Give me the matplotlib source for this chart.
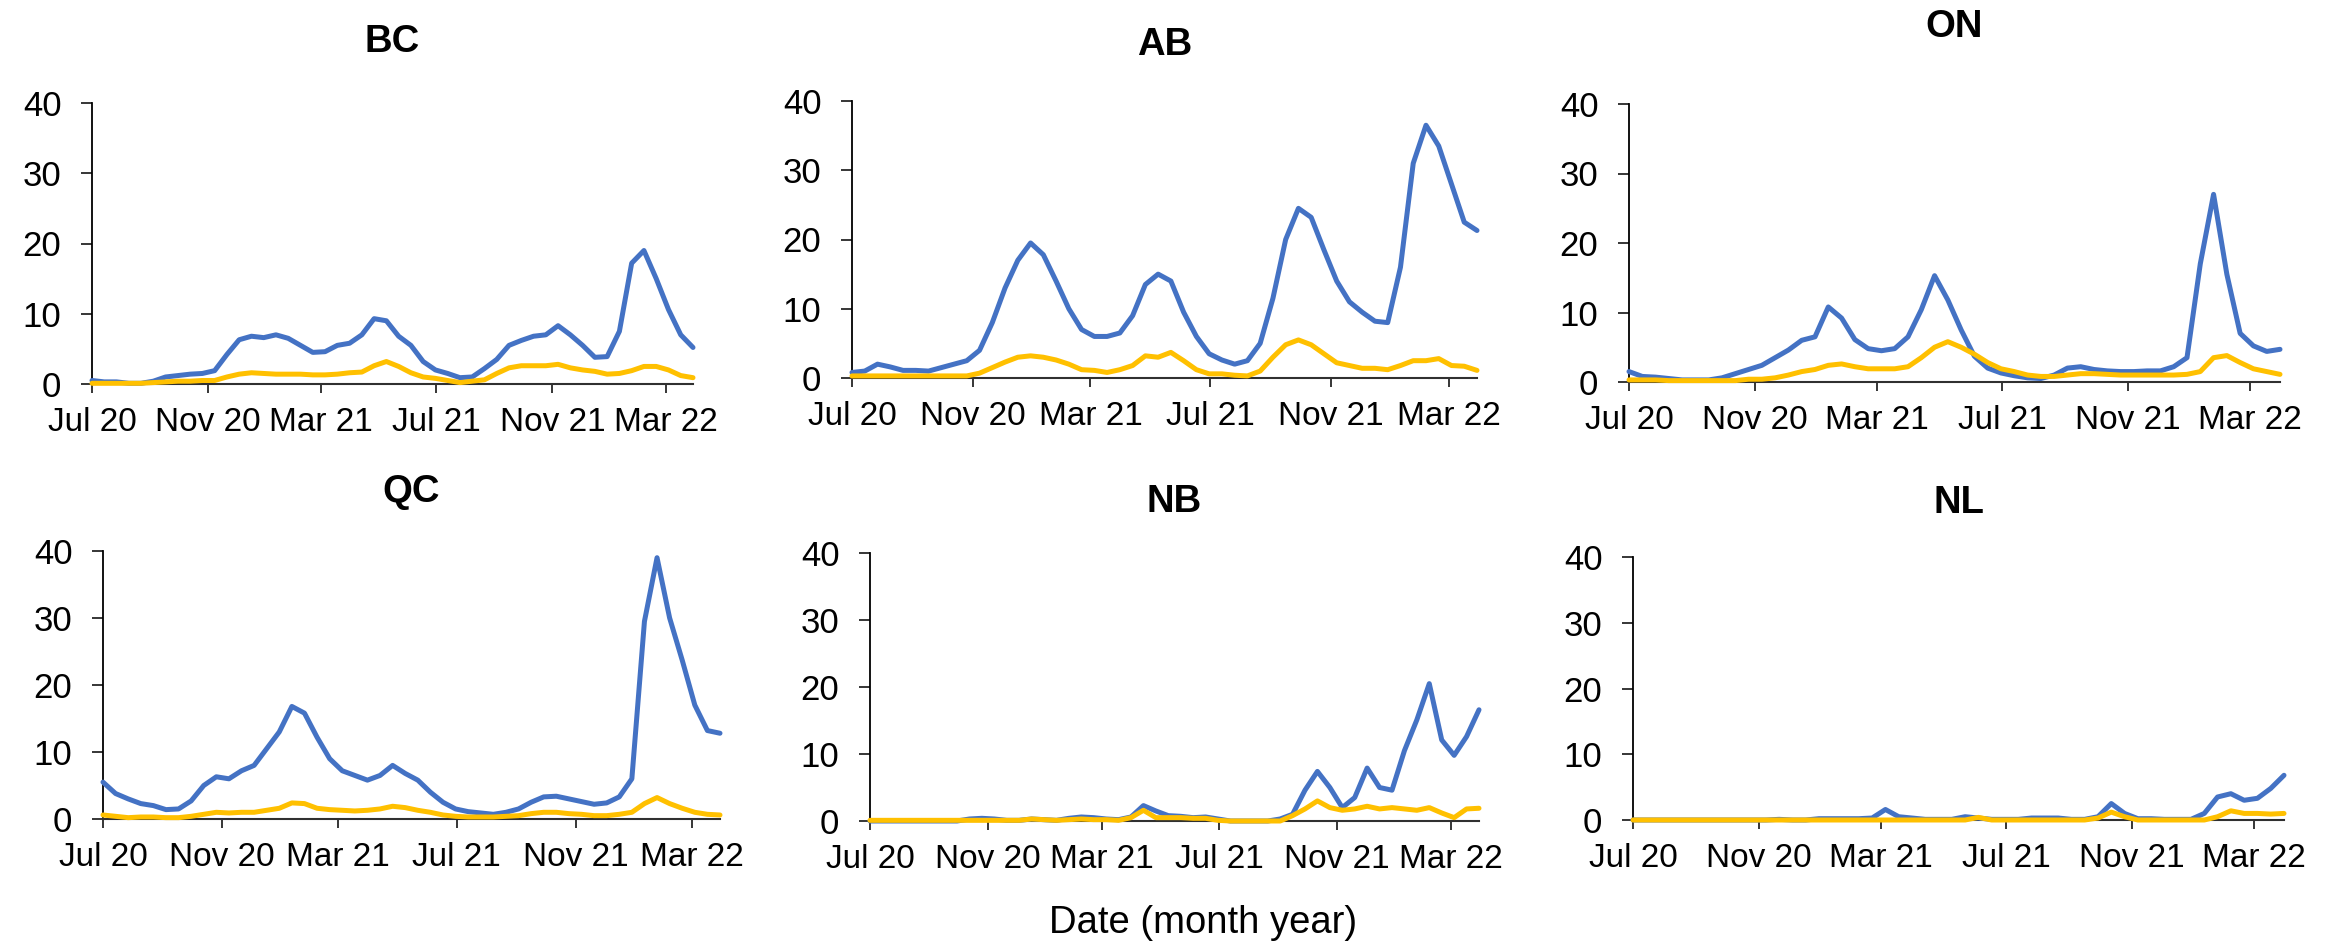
import matplotlib
matplotlib.use("Agg")
import matplotlib.pyplot as plt
import pandas as pd

plt.rcParams['font.family'] = ['Liberation Sans', 'DejaVu Sans']

# sample dates: every 13 days from 1 Jul 2020 to 30 Mar 2022
dates = pd.date_range('2020-07-01', periods=50, freq='13D')

provinces = ['BC', 'AB', 'ON', 'QC', 'NB', 'NL']

bc_blue = [0.5, 0.3, 0.3, 0.1, 0.1, 0.4, 1.0, 1.2, 1.4, 1.5,
           1.9, 4.2, 6.3, 6.8, 6.6, 7.0, 6.5, 5.5, 4.5, 4.6,
           5.5, 5.8, 7.0, 9.3, 9.0, 6.8, 5.5, 3.2, 2.0, 1.5,
           0.9, 1.0, 2.2, 3.5, 5.5, 6.2, 6.8, 7.0, 8.3, 7.0,
           5.5, 3.8, 3.9, 7.5, 17.2, 19.0, 15.0, 10.6, 7.0, 5.2]
bc_yellow = [0.1, 0.1, 0.1, 0.1, 0.1, 0.2, 0.3, 0.4, 0.4, 0.5,
             0.5, 1.0, 1.4, 1.6, 1.5, 1.4, 1.4, 1.4, 1.3, 1.3,
             1.4, 1.6, 1.7, 2.6, 3.2, 2.5, 1.6, 1.0, 0.8, 0.5,
             0.2, 0.4, 0.6, 1.5, 2.3, 2.6, 2.6, 2.6, 2.8, 2.3,
             2.0, 1.8, 1.4, 1.5, 1.9, 2.5, 2.5, 2.0, 1.2, 0.9]

ab_blue = [0.8, 1.0, 2.0, 1.6, 1.1, 1.1, 1.0, 1.5, 2.0, 2.5,
           4.0, 8.0, 13.0, 17.0, 19.5, 17.8, 14.0, 10.0, 7.0, 6.0,
           6.0, 6.5, 9.0, 13.5, 15.0, 14.0, 9.5, 6.0, 3.5, 2.6,
           2.0, 2.5, 5.0, 11.5, 20.0, 24.5, 23.2, 18.5, 14.0, 11.0,
           9.5, 8.2, 8.0, 16.0, 31.0, 36.5, 33.5, 28.0, 22.5, 21.3]
ab_yellow = [0.3, 0.3, 0.3, 0.3, 0.3, 0.3, 0.3, 0.3, 0.3, 0.3,
             0.7, 1.5, 2.3, 3.0, 3.2, 3.0, 2.6, 2.0, 1.2, 1.1,
             0.8, 1.2, 1.8, 3.2, 3.0, 3.7, 2.5, 1.2, 0.6, 0.6,
             0.4, 0.3, 1.0, 3.0, 4.8, 5.5, 4.8, 3.5, 2.2, 1.8,
             1.4, 1.4, 1.2, 1.8, 2.5, 2.5, 2.8, 1.8, 1.7, 1.1]

on_blue = [1.5, 0.8, 0.7, 0.5, 0.3, 0.3, 0.3, 0.6, 1.2, 1.8,
           2.4, 3.5, 4.6, 6.0, 6.5, 10.8, 9.2, 6.1, 4.8, 4.5,
           4.8, 6.5, 10.4, 15.3, 11.8, 7.5, 3.7, 2.0, 1.3, 0.9,
           0.6, 0.5, 1.0, 2.0, 2.2, 1.8, 1.6, 1.5, 1.5, 1.6,
           1.6, 2.2, 3.5, 17.0, 27.0, 15.5, 7.0, 5.2, 4.4, 4.7]
on_yellow = [0.3, 0.3, 0.3, 0.2, 0.2, 0.2, 0.2, 0.2, 0.2, 0.4,
             0.4, 0.6, 1.0, 1.5, 1.8, 2.4, 2.6, 2.2, 1.9, 1.9,
             1.9, 2.2, 3.5, 5.0, 5.8, 5.0, 4.0, 2.8, 1.9, 1.5,
             1.0, 0.8, 0.8, 1.0, 1.2, 1.2, 1.1, 1.0, 1.0, 1.0,
             1.0, 1.0, 1.1, 1.5, 3.5, 3.8, 2.8, 1.9, 1.5, 1.1]

qc_blue = [5.5, 3.8, 3.0, 2.3, 2.0, 1.4, 1.5, 2.7, 5.0, 6.3,
           6.0, 7.2, 8.0, 10.5, 13.0, 16.8, 15.8, 12.2, 9.0, 7.2,
           6.5, 5.8, 6.5, 8.0, 6.8, 5.8, 4.0, 2.5, 1.5, 1.1,
           0.9, 0.7, 1.0, 1.5, 2.5, 3.3, 3.4, 3.0, 2.6, 2.2,
           2.4, 3.3, 6.0, 29.5, 39.0, 30.0, 23.7, 17.0, 13.2, 12.8]
qc_yellow = [0.6, 0.4, 0.2, 0.3, 0.3, 0.2, 0.2, 0.4, 0.7, 1.0,
             0.9, 1.0, 1.0, 1.3, 1.6, 2.4, 2.3, 1.6, 1.4, 1.3,
             1.2, 1.3, 1.5, 1.9, 1.7, 1.3, 1.0, 0.6, 0.4, 0.3,
             0.3, 0.3, 0.4, 0.5, 0.8, 1.0, 1.0, 0.8, 0.7, 0.5,
             0.5, 0.7, 1.0, 2.3, 3.2, 2.3, 1.6, 1.0, 0.7, 0.6]

nb_blue = [0.0, 0.0, 0.0, 0.0, 0.0, 0.0, 0.0, 0.0, 0.3, 0.4,
           0.3, 0.1, 0.1, 0.3, 0.2, 0.1, 0.4, 0.6, 0.5, 0.3,
           0.2, 0.6, 2.3, 1.5, 0.8, 0.7, 0.5, 0.6, 0.3, 0.0,
           0.0, 0.0, 0.0, 0.3, 1.0, 4.6, 7.4, 5.0, 2.0, 3.5,
           7.9, 5.0, 4.6, 10.5, 15.1, 20.5, 12.1, 9.8, 12.6, 16.6]
nb_yellow = [0.1, 0.1, 0.1, 0.1, 0.1, 0.1, 0.1, 0.1, 0.1, 0.1,
             0.1, 0.1, 0.1, 0.3, 0.2, 0.1, 0.2, 0.3, 0.2, 0.2,
             0.1, 0.5, 1.6, 0.5, 0.5, 0.5, 0.4, 0.4, 0.1, 0.0,
             0.0, 0.0, 0.0, 0.0, 0.8, 1.8, 3.0, 2.0, 1.6, 1.8,
             2.2, 1.8, 2.0, 1.8, 1.6, 2.0, 1.2, 0.5, 1.8, 1.9]

nl_blue = [0.0, 0.0, 0.0, 0.0, 0.0, 0.0, 0.0, 0.0, 0.0, 0.0,
           0.0, 0.1, 0.0, 0.0, 0.2, 0.2, 0.2, 0.2, 0.3, 1.6,
           0.5, 0.3, 0.1, 0.1, 0.1, 0.5, 0.3, 0.1, 0.1, 0.1,
           0.3, 0.3, 0.3, 0.1, 0.1, 0.5, 2.5, 1.0, 0.2, 0.2,
           0.1, 0.1, 0.1, 1.0, 3.5, 4.0, 3.0, 3.3, 4.8, 6.8]
nl_yellow = [0.0, 0.0, 0.0, 0.0, 0.0, 0.0, 0.0, 0.0, 0.0, 0.0,
             0.0, 0.0, 0.0, 0.0, 0.0, 0.0, 0.0, 0.0, 0.0, 0.0,
             0.0, 0.0, 0.0, 0.0, 0.0, 0.0, 0.4, 0.0, 0.0, 0.0,
             0.0, 0.0, 0.0, 0.0, 0.0, 0.3, 1.2, 0.5, 0.0, 0.0,
             0.0, 0.0, 0.0, 0.0, 0.5, 1.4, 1.0, 1.0, 0.9, 1.0]

blue_series = [bc_blue, ab_blue, on_blue, qc_blue, nb_blue, nl_blue]
yellow_series = [bc_yellow, ab_yellow, on_yellow, qc_yellow, nb_yellow, nl_yellow]

yticks = [0, 10, 20, 30, 40]
xtick_dates = pd.to_datetime(['2020-07-01', '2020-11-01', '2021-03-01',
                              '2021-07-01', '2021-11-01', '2022-03-01'])
xtick_labels = ['Jul 20', 'Nov 20', 'Mar 21', 'Jul 21', 'Nov 21', 'Mar 22']

W, H = 2331, 942
# axes boxes in pixels: left, right, top, bottom ; title baseline in pixels
boxes = [(92, 693, 103, 384), (852, 1477, 101, 378), (1629, 2280, 104, 382),
         (103, 720, 551, 819), (870, 1479, 553, 821), (1633, 2284, 557, 820)]
title_base = [52, 55, 37, 502, 512, 513]

fig = plt.figure(figsize=(W / 100, H / 100), dpi=100)

for k, prov in enumerate(provinces):
    l, r, t, b = boxes[k]
    ax = fig.add_axes([l / W, 1 - b / H, (r - l) / W, (b - t) / H])
    ax.plot(dates, blue_series[k], color='#4472C4', lw=3.6,
            solid_capstyle='round', solid_joinstyle='round', zorder=3)
    ax.plot(dates, yellow_series[k], color='#FFC000', lw=3.6,
            solid_capstyle='round', solid_joinstyle='round', zorder=4)
    ax.set_xlim(dates[0], dates[-1])
    ax.set_ylim(0, 40)
    ax.set_yticks(yticks)
    ax.set_xticks(xtick_dates)
    ax.set_xticklabels(xtick_labels)
    for s in ['top', 'right']:
        ax.spines[s].set_visible(False)
    ax.spines['left'].set_linewidth(1.3)
    ax.spines['bottom'].set_linewidth(1.5)
    ax.spines['bottom'].set_color('#303030')
    ax.tick_params(axis='y', direction='out', length=8, width=1.1, labelsize=25, pad=14)
    ax.tick_params(axis='x', direction='out', length=6.5, width=1.1, labelsize=24, pad=10)
    ax.patch.set_alpha(0)
    for line in ax.get_lines():
        line.set_clip_on(False)
    fig.text((l + r) / 2 / W, 1 - title_base[k] / H, prov, ha='center', va='baseline',
             fontsize=27.5, fontweight='bold')

fig.text(1203 / W, 1 - 933 / H, 'Date (month year)', ha='center', va='baseline', fontsize=27.5)

fig.savefig('out.png', dpi=100)
